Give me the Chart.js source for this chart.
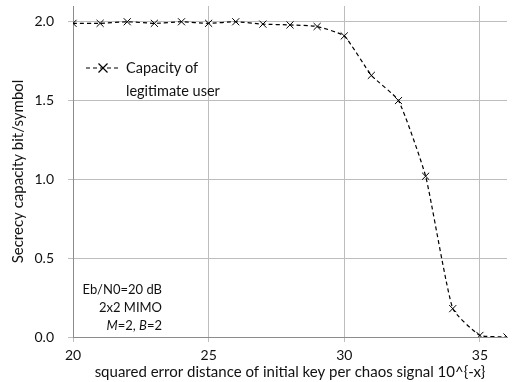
<!DOCTYPE html>
<html>
<head>
<meta charset="utf-8">
<script src="https://cdn.jsdelivr.net/npm/chart.js"></script>
<style>
  html, body { margin: 0; padding: 0; background: #fff; }
  #wrap { width: 513px; height: 382px; }
</style>
</head>
<body>
<div id="wrap"><canvas id="c" width="513" height="382"></canvas></div>
<script>
const keyExp = [20, 21, 22, 23, 24, 25, 26, 27, 28, 29, 30, 31, 32, 33, 34, 35, 36];
const capacity = [1.99, 1.99, 2.0, 1.99, 2.0, 1.99, 2.0, 1.985, 1.98, 1.97, 1.91, 1.66, 1.50, 1.02, 0.18, 0.01, 0.0];
const xTicks = [20, 25, 30, 35];
const yTicks = [0, 0.5, 1.0, 1.5, 2.0];
const seriesLabel = ['Capacity of', 'legitimate user'];
const noteLines = ['Eb/N0=20 dB', '2x2 MIMO', 'M=2, B=2'];

const FONT = 'Lato, "Open Sans", sans-serif';

// legend + parameter note drawn inside the plot area
const notes = {
  id: 'notes',
  afterDraw(chart) {
    const { ctx } = chart;
    ctx.save();
    // legend sample
    const ly = 68;
    const lx0 = 86, lx1 = 120;
    ctx.strokeStyle = '#000';
    ctx.lineWidth = 1.2;
    ctx.setLineDash([4, 3]);
    ctx.beginPath(); ctx.moveTo(lx0, ly); ctx.lineTo(lx1, ly); ctx.stroke();
    ctx.setLineDash([]);
    const cx = (lx0 + lx1) / 2, r = 4.5;
    ctx.beginPath();
    ctx.moveTo(cx - r, ly - r); ctx.lineTo(cx + r, ly + r);
    ctx.moveTo(cx + r, ly - r); ctx.lineTo(cx - r, ly + r);
    ctx.stroke();
    ctx.fillStyle = '#111';
    ctx.font = '14.5px ' + FONT;
    ctx.textBaseline = 'middle';
    ctx.textAlign = 'left';
    ctx.fillText(seriesLabel[0], 126, ly);
    ctx.fillText(seriesLabel[1], 126, ly + 23);
    // note
    ctx.textAlign = 'right';
    ctx.font = '13px ' + FONT;
    ctx.fillText(noteLines[0], 162, 290);
    ctx.fillText(noteLines[1], 162, 308);
    const parts = [['M', true], ['=2, ', false], ['B', true], ['=2', false]];
    let xx = 162;
    for (let i = parts.length - 1; i >= 0; i--) {
      ctx.font = (parts[i][1] ? 'italic ' : '') + '13px ' + FONT;
      ctx.fillText(parts[i][0], xx, 326);
      xx -= ctx.measureText(parts[i][0]).width;
    }
    ctx.restore();
  }
};

new Chart(document.getElementById('c'), {
  type: 'line',
  data: {
    datasets: [{
      label: seriesLabel.join(' '),
      data: keyExp.map((v, i) => ({ x: v, y: capacity[i] })),
      borderColor: '#000',
      borderWidth: 1.2,
      borderDash: [4, 3],
      tension: 0.15,
      pointStyle: 'crossRot',
      pointRadius: 5,
      pointBorderWidth: 1,
      pointBorderColor: '#000',
      fill: false
    }]
  },
  options: {
    responsive: false,
    animation: false,
    layout: { padding: { top: 6, right: 5, left: 0, bottom: 0 } },
    plugins: { legend: { display: false }, tooltip: { enabled: false } },
    scales: {
      x: {
        type: 'linear', min: 20, max: 36,
        afterBuildTicks: a => { a.ticks = xTicks.map(v => ({ value: v })); },
        afterFit: s => { s.height = 45; s.paddingRight = 0; s.paddingLeft = 0; },
        grid: { color: '#bdbdbd', lineWidth: 1, tickLength: 5, drawTicks: true },
        border: { color: '#8c8c8c' },
        ticks: { color: '#111', font: { family: FONT, size: 14 }, padding: 5, maxRotation: 0 },
        title: { display: true, text: 'squared error distance of initial key per chaos signal 10^{-x}', color: '#111', font: { family: FONT, size: 15 }, padding: { top: 0, bottom: 1 } }
      },
      y: {
        type: 'linear', min: 0, max: 2.1,
        afterBuildTicks: a => { a.ticks = yTicks.map(v => ({ value: v })); },
        afterFit: s => { s.width = 73; s.paddingTop = 0; s.paddingBottom = 0; },
        grid: { color: '#bdbdbd', lineWidth: 1, tickLength: 5 },
        border: { color: '#8c8c8c' },
        ticks: { color: '#111', font: { family: FONT, size: 14 }, padding: 14, callback: v => v.toFixed(1) },
        title: { display: true, text: 'Secrecy capacity bit/symbol', color: '#111', font: { family: FONT, size: 15 }, padding: { top: 9, bottom: 2 } }
      }
    }
  },
  plugins: [notes]
});
</script>
</body>
</html>
